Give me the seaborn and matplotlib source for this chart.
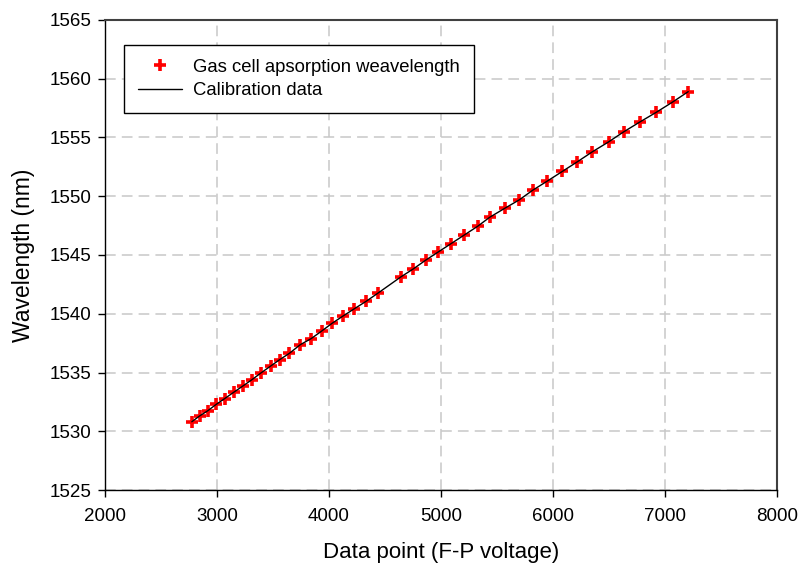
import matplotlib
matplotlib.use("Agg")
import matplotlib.pyplot as plt
import seaborn as sns
import pandas as pd
from matplotlib.lines import Line2D

voltage = [2775, 2844, 2918, 2993, 3067, 3148, 3231, 3312, 3395, 3479, 3559, 3646,
           3744, 3840, 3935, 4028, 4126, 4227, 4332, 4435,
           4644, 4752, 4862, 4976, 5089, 5208, 5327, 5435,
           5569, 5697, 5822, 5951, 6085, 6219,
           6353, 6496, 6630, 6776, 6922, 7069, 7208]
wavelength = [1530.81, 1531.30, 1531.75, 1532.29, 1532.77, 1533.31, 1533.85, 1534.39, 1534.98, 1535.55, 1536.09, 1536.63,
              1537.37, 1537.88, 1538.53, 1539.19, 1539.81, 1540.43, 1541.06, 1541.74,
              1543.15, 1543.81, 1544.55, 1545.26, 1545.96, 1546.70, 1547.44, 1548.21,
              1548.97, 1549.68, 1550.53, 1551.30, 1552.12, 1552.94,
              1553.79, 1554.62, 1555.47, 1556.32, 1557.14, 1558.02, 1558.90]
x_ticks = [2000, 3000, 4000, 5000, 6000, 7000, 8000]
y_ticks = [1525, 1530, 1535, 1540, 1545, 1550, 1555, 1560, 1565]
label_points = "Gas cell apsorption weavelength"
label_line = "Calibration data"

df = pd.DataFrame({"v": voltage, "w": wavelength})

sns.set_style("white")
plt.rcParams['font.family'] = ['Liberation Sans', 'DejaVu Sans']
plt.rcParams.update({
    "text.color": "black", "axes.labelcolor": "black",
    "xtick.color": "black", "ytick.color": "black",
    "xtick.bottom": True, "ytick.left": True,
})

fig = plt.figure(figsize=(7.98, 5.69), dpi=100)
ax = fig.add_axes([0.1316, 0.1388, 0.842, 0.8261])

sns.scatterplot(data=df, x="v", y="w", marker="+", s=75, color="red",
                linewidth=2.6, ax=ax, zorder=3, legend=False)
sns.lineplot(data=df, x="v", y="w", color="black", linewidth=1.0, ax=ax,
             zorder=4, legend=False, sort=True)

ax.set_xlim(2000, 8000)
ax.set_ylim(1525, 1565)
ax.set_xticks(x_ticks)
ax.set_yticks(y_ticks)
ax.tick_params(axis="both", labelsize=13.5, direction="out", length=5, width=1,
               color="black", pad=5, bottom=True, left=True)
ax.tick_params(axis="x", pad=8)
ax.grid(True, color="#c8c8c8", linestyle=(0, (7, 4)), linewidth=1.1)
ax.set_axisbelow(True)
for side in ["left", "bottom"]:
    ax.spines[side].set_color("black")
    ax.spines[side].set_linewidth(1.0)
for side in ["top", "right"]:
    ax.spines[side].set_color("#404040")
    ax.spines[side].set_linewidth(1.5)

ax.set_xlabel("Data point (F-P voltage)", fontsize=16, labelpad=12)
ax.set_ylabel("Wavelength (nm)", fontsize=16.5, labelpad=10)

handles = [
    Line2D([], [], color="red", marker="+", linestyle="none", markersize=8, markeredgewidth=2.6),
    Line2D([], [], color="black", linewidth=1.0),
]
leg = ax.legend(handles, [label_points, label_line], loc="upper left",
                bbox_to_anchor=(0.028, 0.947), fontsize=13.3, frameon=True,
                fancybox=False, edgecolor="black", framealpha=1,
                borderpad=0.75, handlelength=2.4, handletextpad=0.6, labelspacing=0.35,
                borderaxespad=0)
leg.get_frame().set_linewidth(1.0)

fig.savefig("out.png", dpi=100)
